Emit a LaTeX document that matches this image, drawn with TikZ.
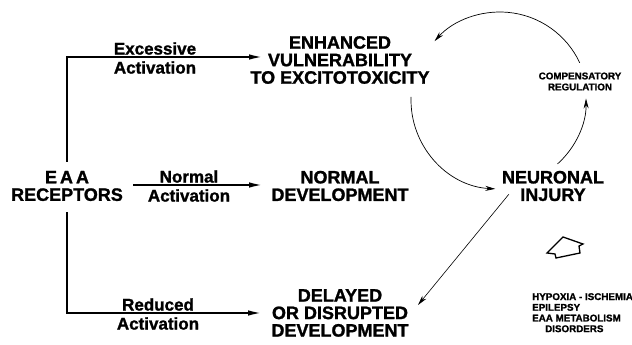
\documentclass[tikz,border=0pt]{standalone}
\usepackage{fontspec}
\setmainfont[BoldFeatures={FakeBold=1.3}]{Liberation Sans}
\usetikzlibrary{arrows.meta,calc}
\begin{document}
\begin{tikzpicture}[x=1pt,y=1pt,
  big/.style={font=\bfseries\fontsize{18}{17.5}\selectfont, align=center, inner sep=0pt},
  lab/.style={font=\bfseries\fontsize{17}{19}\selectfont, align=center, inner sep=0pt},
  small/.style={font=\bfseries\fontsize{9.8}{11}\selectfont, align=center, inner sep=0pt},
  tiny/.style={font=\bfseries\fontsize{9.8}{10.7}\selectfont, align=left, inner sep=0pt},
  bigarrow/.style={line width=1.9pt, -{Latex[length=14pt,width=5.5pt]}},
  thinarrow/.style={line width=0.7pt, -{Stealth[length=10pt,width=5pt]}},
]
\useasboundingbox (0,0) rectangle (632,345);

% main nodes
\node[big] (eaa) at (67,159) {E\,A\,A\\RECEPTORS};
\node[big] (enh) at (340,285) {ENHANCED\\VULNERABILITY\\TO EXCITOTOXICITY};
\node[big] (nor) at (340,159) {NORMAL\\DEVELOPMENT};
\node[big] (del) at (340,32) {DELAYED\\OR DISRUPTED\\DEVELOPMENT};
\node[big] (neu) at (553,159) {NEURONAL\\INJURY};

% arrow labels
\node[lab] (lex) at (155,287) {Excessive\\Activation};
\node[lab] (lno) at (189,159) {Normal\\Activation};
\node[lab] (lre) at (158,31) {Reduced\\Activation};

% small texts
\node[small] (comp) at (580,263.5) {COMPENSATORY\\REGULATION};
\node[tiny, anchor=north west] (hyp) at (532,52) {HYPOXIA - ISCHEMIA\\EPILEPSY\\EAA METABOLISM\\\hspace*{13pt}DISORDERS};

% arrow end points
\coordinate (t1) at (263,288);
\coordinate (t2) at (263,160);
\coordinate (t3) at (262,32);
\coordinate (cc) at (500,245);
\coordinate (d0) at ($(neu.south west)+(7,7)$);
\coordinate (d1) at (418,40);

% EAA arrows
\draw[bigarrow] ([yshift=9pt]eaa.north) |- (t1);
\draw[bigarrow] ([xshift=10pt,yshift=1pt]eaa.east) -- (t2);
\draw[bigarrow] ([yshift=-11pt]eaa.south) |- (t3);

% cycle
\draw[thinarrow] ($(cc)+(25:88)$) arc[start angle=25, end angle=138, radius=88];
\draw[thinarrow] ($(cc)+(178:89)$) arc[start angle=178, end angle=267, radius=89];
\draw[thinarrow] ($(cc)+(-48:86)$) arc[start angle=-48, end angle=1, radius=86];

% diagonal
\draw[line width=0.6pt, -{Stealth[length=10pt,width=5pt]}] (d0) -- (d1);

% hollow block arrow
\draw[line width=1.3pt, line join=miter] (563,108) -- (583,101) -- (579,99) -- (580,92) -- (556,87) -- (555,91) -- (547,92) -- cycle;
\end{tikzpicture}
\end{document}
